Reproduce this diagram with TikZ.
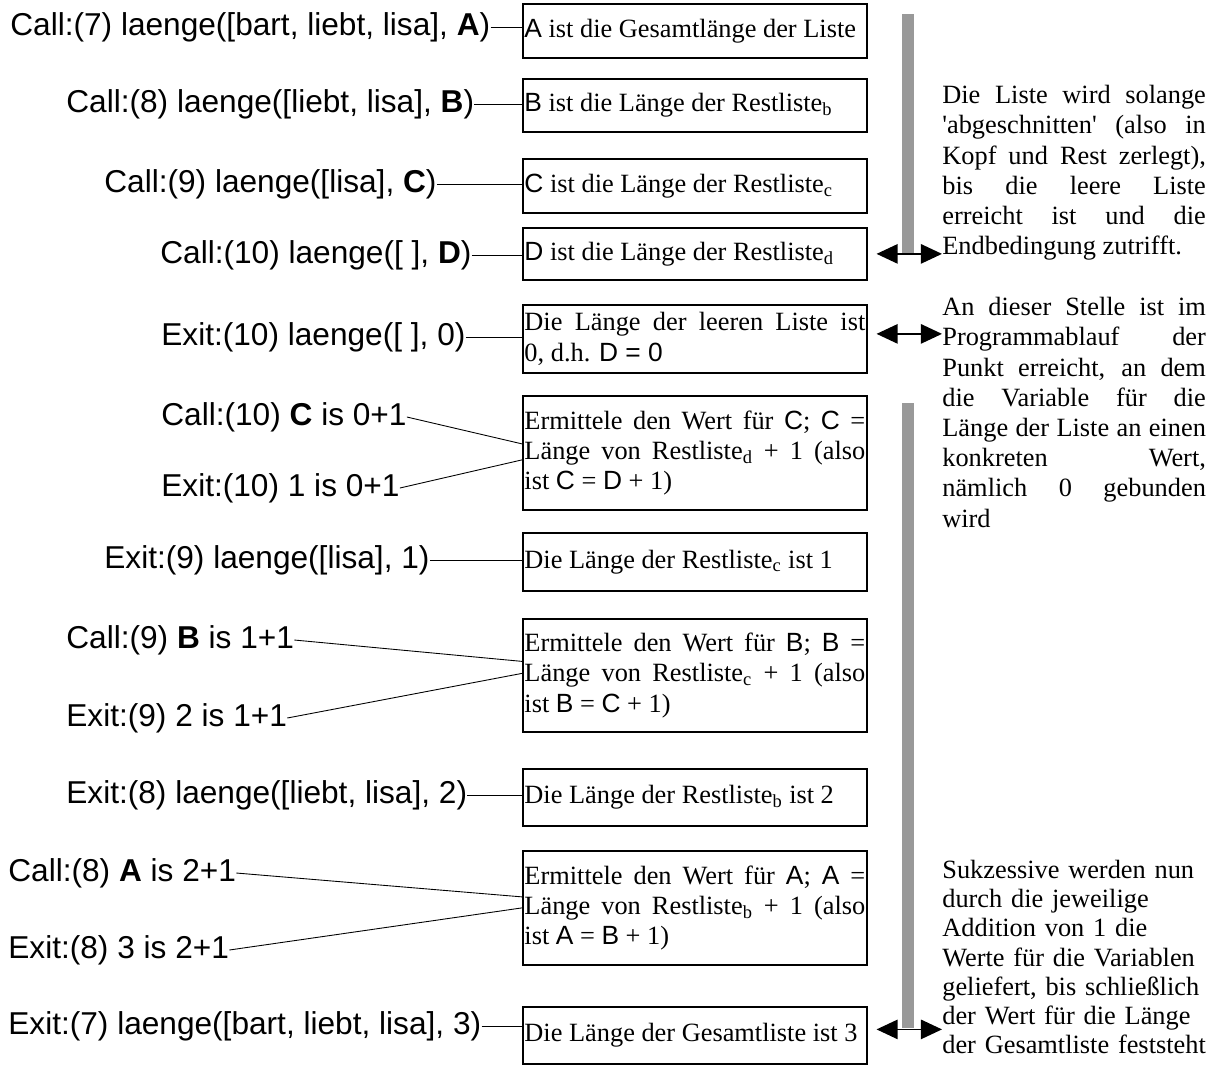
\documentclass[tikz,border=0pt]{standalone}
\usepackage{fontspec}
\setmainfont{Liberation Serif}
\newfontfamily\arialfont{Liberation Sans}
\usetikzlibrary{arrows.meta,calc}
\newcommand{\sv}[1]{{\arialfont #1}}
\newcommand{\tracefont}{\fontsize{18}{21}\arialfont}
\newcommand{\boxfont}{\fontsize{15}{17.2}\selectfont}

\begin{document}
\begin{tikzpicture}[x=0.02cm, y=-0.02cm]
    \tikzstyle{trace}=[anchor=west, inner sep=0pt, font=\tracefont]
    \tikzstyle{infobox}=[draw, line width=1pt, anchor=north west, text width=194pt, inner xsep=0.9pt, inner ysep=0pt, align=justify, font=\boxfont]
    \tikzstyle{note}=[anchor=north west, inner sep=0pt, text width=150pt, align=justify, font=\boxfont]
    \tikzstyle{link}=[line width=0.5pt]
    \tikzstyle{twoway}=[{Triangle[length=12pt,width=11pt]}-{Triangle[length=12pt,width=11pt]}, line width=1pt, shorten <=5pt]
    \useasboundingbox (0,0) rectangle (1212,1066);

    % trace of the query
    \node[trace] (call7)  at (10,27)   {Call:(7) laenge([bart, liebt, lisa], \textbf{A})};
    \node[trace] (call8)  at (66,104)  {Call:(8) laenge([liebt, lisa], \textbf{B})};
    \node[trace] (call9)  at (104,184) {Call:(9) laenge([lisa], \textbf{C})};
    \node[trace] (call10) at (160,255) {Call:(10) laenge([ ], \textbf{D})};
    \node[trace] (exit10) at (161,337) {Exit:(10) laenge([ ], 0)};
    \node[trace] (callC)  at (161,417) {Call:(10) \textbf{C} is 0+1};
    \node[trace] (exitC)  at (161,488) {Exit:(10) 1 is 0+1};
    \node[trace] (exit9)  at (104,560) {Exit:(9) laenge([lisa], 1)};
    \node[trace] (callB)  at (66,640)  {Call:(9) \textbf{B} is 1+1};
    \node[trace] (exitB)  at (66,718)  {Exit:(9) 2 is 1+1};
    \node[trace] (exit8)  at (66,795)  {Exit:(8) laenge([liebt, lisa], 2)};
    \node[trace] (callA)  at (8,873)   {Call:(8) \textbf{A} is 2+1};
    \node[trace] (exitA)  at (8,950)   {Exit:(8) 3 is 2+1};
    \node[trace] (exit7)  at (8,1026)  {Exit:(7) laenge([bart, liebt, lisa], 3)};

    % explanations
    \node[infobox, minimum height=1.08cm] (bA) at (522,3) {\sv{A} ist die Gesamtlänge der Liste};
    \node[infobox, minimum height=1.06cm] (bB) at (522,78) {\sv{B} ist die Länge der Restliste\textsubscript{b}};
    \node[infobox, minimum height=1.08cm] (bC) at (522,158) {\sv{C} ist die Länge der Restliste\textsubscript{c}};
    \node[infobox, minimum height=1.04cm] (bD) at (522,227) {\sv{D} ist die Länge der Restliste\textsubscript{d}};
    \node[infobox, minimum height=1.36cm] (bLeer) at (522,304) {Die Länge der leeren Liste ist\linebreak 0, d.h. \sv{D = 0}};
    \node[infobox, minimum height=2.28cm] (bCalcC) at (522,395) {Ermittele den Wert für \sv{C}; \sv{C} =\linebreak Länge von Restliste\textsubscript{d} + 1 (also\linebreak ist \sv{C} = \sv{D} + 1)};
    \node[infobox, minimum height=1.16cm] (bRestC) at (522,532) {Die Länge der Restliste\textsubscript{c} ist 1};
    \node[infobox, minimum height=2.26cm] (bCalcB) at (522,618) {Ermittele den Wert für \sv{B}; \sv{B} =\linebreak Länge von Restliste\textsubscript{c} + 1 (also\linebreak ist \sv{B} = \sv{C} + 1)};
    \node[infobox, minimum height=1.14cm] (bRestB) at (522,768) {Die Länge der Restliste\textsubscript{b} ist 2};
    \node[infobox, minimum height=2.28cm] (bCalcA) at (522,850) {Ermittele den Wert für \sv{A}; \sv{A} =\linebreak Länge von Restliste\textsubscript{b} + 1 (also\linebreak ist \sv{A} = \sv{B} + 1)};
    \node[infobox, minimum height=1.14cm] (bGesamt) at (522,1006) {Die Länge der Gesamtliste ist 3};

    % comments on the right
    \node[note] (noteDown) at (942,85) {Die Liste wird solange\linebreak \textquotesingle abgeschnitten\textquotesingle{} (also in\linebreak Kopf und Rest zerlegt),\linebreak bis die leere Liste\linebreak erreicht ist und die\linebreak Endbedingung zutrifft.};
    \node[note] (noteTurn) at (942,297) {An dieser Stelle ist im\linebreak Programmablauf der\linebreak Punkt erreicht, an dem\linebreak die Variable für die\linebreak Länge der Liste an einen\linebreak konkreten Wert,\linebreak nämlich 0 gebunden\linebreak wird};
    \node[note, align=left, font=\fontsize{15}{16.6}\selectfont] (noteUp) at (942,860) {Sukzessive werden nun\\ durch die jeweilige\\ Addition von 1 die\\ Werte für die Variablen\\ geliefert, bis schließlich\\ der Wert für die Länge\\ der Gesamtliste feststeht};

    \draw[link] (call7.east) -- (call7.east -| bA.west);
    \draw[link] (call8.east) -- (call8.east -| bB.west);
    \draw[link] (call9.east) -- (call9.east -| bC.west);
    \draw[link] (call10.east) -- (call10.east -| bD.west);
    \draw[link] (exit10.east) -- (exit10.east -| bLeer.west);
    \draw[link] (callC.east) -- ($(bCalcC.west)+(0,-9)$);
    \draw[link] (exitC.east) -- ($(bCalcC.west)+(0,7)$);
    \draw[link] (exit9.east) -- (exit9.east -| bRestC.west);
    \draw[link] (callB.east) -- ($(bCalcB.west)+(0,-14)$);
    \draw[link] (exitB.east) -- ($(bCalcB.west)+(0,-2)$);
    \draw[link] (exit8.east) -- (exit8.east -| bRestB.west);
    \draw[link] (callA.east) -- ($(bCalcA.west)+(0,-11)$);
    \draw[link] (exitA.east) -- (bCalcA.west);
    \draw[link] (exit7.east) -- (exit7.east -| bGesamt.west);

    % gray bars and arrows
    \coordinate (turnFrom) at ($(bLeer.east)+(0,-5)$);
    \coordinate (upFrom) at ($(bGesamt.east)+(0,-6)$);
    \fill[black!40] (902,14) rectangle (914,253);
    \fill[black!40] (902,403) rectangle (914,1028);
    \draw[twoway] (bD.east) -- (bD.east -| noteDown.west);
    \draw[twoway] (turnFrom) -- (turnFrom -| noteTurn.west);
    \draw[twoway] (upFrom) -- (upFrom -| noteUp.west);

\end{tikzpicture}
\end{document}
